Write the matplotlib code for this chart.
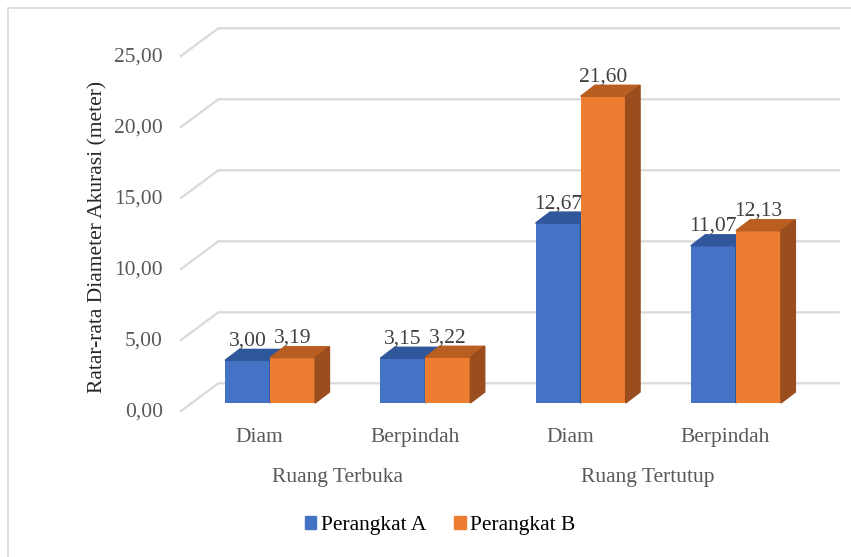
import matplotlib.pyplot as plt
from matplotlib.patches import Polygon, Patch, Rectangle

groups = ['Ruang Terbuka', 'Ruang Tertutup']
categories = ['Diam', 'Berpindah', 'Diam', 'Berpindah']
perangkat_a = [3.00, 3.15, 12.67, 11.07]
perangkat_b = [3.19, 3.22, 21.60, 12.13]
y_ticks = [0, 5, 10, 15, 20, 25]

plt.rcParams['font.family'] = 'Liberation Serif'

blue = ('#4472c4', '#30569b', '#2c4f8e')
orange = ('#ed7d31', '#b95e21', '#9a4e1d')

fig = plt.figure(figsize=(8.51, 5.57), dpi=100)
ax = fig.add_axes([0, 0, 1, 1])
ax.set_xlim(-1.7386, 3.7412)
ax.set_ylim(-10.845, 28.38)
ax.axis('off')

# light frame around the chart area
fig.patches.append(Rectangle((8 / 851, -0.1), 1.2, 1.1 - 8 / 557, transform=fig.transFigure,
                             fill=False, edgecolor='#d9d9d9', lw=1.2))

# fake 3d offsets (x in category units, y in value units)
bar_dx, bar_dy = 0.093, 0.775
back_dx, back_dy = 0.171, 1.387
front_dx, front_dy = -0.0753, -0.613
left_front, left_back, right_back = -0.5795, -0.333, 3.670

for v in y_ticks:
    ax.plot([left_front, left_back, right_back], [v + front_dy, v + back_dy, v + back_dy],
            color='#d9d9d9', lw=1.6, zorder=1, solid_capstyle='butt')
    ax.text(-0.689, v + front_dy, f'{v:.2f}'.replace('.', ','), ha='right', va='center',
            fontsize=15.5, color='#595959')

w = 0.29


def bar3d(x0, value, colors, z):
    front, top, side = colors
    ax.bar(x0, value, width=w, align='edge', color=front, zorder=z)
    x1 = x0 + w
    ax.add_patch(Polygon([(x0, value), (x1, value), (x1 + bar_dx, value + bar_dy),
                          (x0 + bar_dx, value + bar_dy)], closed=True, color=top, zorder=z))
    ax.add_patch(Polygon([(x1, 0), (x1, value), (x1 + bar_dx, value + bar_dy),
                          (x1 + bar_dx, bar_dy)], closed=True, color=side, zorder=z))
    ax.text(x0 + w / 2, value + bar_dy + 0.28, f'{value:.2f}'.replace('.', ','),
            ha='center', va='baseline', fontsize=15.5, color='#404040', zorder=20)


for i, (a, b) in enumerate(zip(perangkat_a, perangkat_b)):
    bar3d(i - w, a, blue, 2 + 2 * i)
    bar3d(i, b, orange, 3 + 2 * i)

# category and group labels along the floor
for i, name in enumerate(categories):
    ax.text(i - 0.068, -2.46, name, ha='center', va='center',
            fontsize=15.5, color='#595959')
for g, name in enumerate(groups):
    ax.text(2 * g + 0.5 - 0.068, -5.25, name, ha='center', va='center',
            fontsize=15.5, color='#595959')

ax.text(-1.11, 11.69, 'Ratar-rata Diameter Akurasi (meter)', rotation=90,
        ha='center', va='center', fontsize=15.5, color='#262626')

handles = [Patch(color=blue[0], label='Perangkat A'), Patch(color=orange[0], label='Perangkat B')]
fig.legend(handles=handles, loc='center', bbox_to_anchor=(0.517, 0.056), ncol=2,
           frameon=False, handlelength=0.55, handleheight=0.55, handletextpad=0.2,
           columnspacing=1.3, fontsize=15.5)

fig.savefig('out.png', dpi=100)
